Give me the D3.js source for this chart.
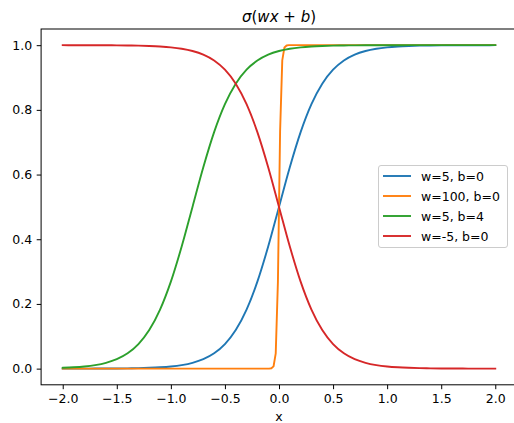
<!DOCTYPE html>
<html>
<head>
<meta charset="utf-8">
<script src="https://cdn.jsdelivr.net/npm/d3@7"></script>
<style>
  body { margin: 0; background: #fff; }
  svg { display: block; overflow: hidden; }
  text { font-family: "DejaVu Sans", sans-serif; fill: #000; }
</style>
</head>
<body>
<svg class="chart"></svg>
<script>
// sample points
var xs = [-2.0, -1.9, -1.8, -1.7, -1.6, -1.5, -1.4, -1.3, -1.2, -1.1, -1.0,
          -0.9, -0.8, -0.7, -0.6, -0.5, -0.4, -0.3, -0.2, -0.1, 0.0,
          0.1, 0.2, 0.3, 0.4, 0.5, 0.6, 0.7, 0.8, 0.9, 1.0,
          1.1, 1.2, 1.3, 1.4, 1.5, 1.6, 1.7, 1.8, 1.9, 2.0];

var blue = [0.0000, 0.0001, 0.0001, 0.0002, 0.0003, 0.0006, 0.0009, 0.0015, 0.0025, 0.0041, 0.0067,
            0.0110, 0.0180, 0.0293, 0.0474, 0.0759, 0.1192, 0.1824, 0.2689, 0.3775, 0.5000,
            0.6225, 0.7311, 0.8176, 0.8808, 0.9241, 0.9526, 0.9707, 0.9820, 0.9890, 0.9933,
            0.9959, 0.9975, 0.9985, 0.9991, 0.9994, 0.9997, 0.9998, 0.9999, 0.9999, 1.0000];

var green = [0.0025, 0.0041, 0.0067, 0.0110, 0.0180, 0.0293, 0.0474, 0.0759, 0.1192, 0.1824, 0.2689,
             0.3775, 0.5000, 0.6225, 0.7311, 0.8176, 0.8808, 0.9241, 0.9526, 0.9707, 0.9820,
             0.9890, 0.9933, 0.9959, 0.9975, 0.9985, 0.9991, 0.9994, 0.9997, 0.9998, 0.9999,
             0.9999, 1.0000, 1.0000, 1.0000, 1.0000, 1.0000, 1.0000, 1.0000, 1.0000, 1.0000];

var red = [1.0000, 0.9999, 0.9999, 0.9998, 0.9997, 0.9994, 0.9991, 0.9985, 0.9975, 0.9959, 0.9933,
           0.9890, 0.9820, 0.9707, 0.9526, 0.9241, 0.8808, 0.8176, 0.7311, 0.6225, 0.5000,
           0.3775, 0.2689, 0.1824, 0.1192, 0.0759, 0.0474, 0.0293, 0.0180, 0.0110, 0.0067,
           0.0041, 0.0025, 0.0015, 0.0009, 0.0006, 0.0003, 0.0002, 0.0001, 0.0001, 0.0000];

// the steep one only has a few samples near zero
var orangeX = [-2.0, -0.0905, -0.0704, -0.0503, -0.0302, -0.0101, 0.0101, 0.0302, 0.0503, 0.0704, 0.0905, 2.0];
var orange  = [0.000, 0.000, 0.001, 0.007, 0.047, 0.268, 0.732, 0.953, 0.993, 0.999, 1.000, 1.000];

var labels = ["w=5, b=0", "w=100, b=0", "w=5, b=4", "w=-5, b=0"];
var colors = ["#1f77b4", "#ff7f0e", "#2ca02c", "#d62728"];
var xTicks = [-2.0, -1.5, -1.0, -0.5, 0.0, 0.5, 1.0, 1.5, 2.0];
var yTicks = [0.0, 0.2, 0.4, 0.6, 0.8, 1.0];

function show() {
    'use strict';
    var W = 514, H = 423;

    var svg = d3.select(".chart")
        .attr("width", W)
        .attr("height", H);

    var x = d3.scaleLinear().domain([-2.2, 2.2]).range([41.1, 516.9]);
    var y = d3.scaleLinear().domain([-0.05, 1.05]).range([384.8, 29.0]);

    var series = [
        {xs: xs, ys: blue, curve: d3.curveMonotoneX},
        {xs: orangeX, ys: orange, curve: d3.curveLinear},
        {xs: xs, ys: green, curve: d3.curveMonotoneX},
        {xs: xs, ys: red, curve: d3.curveMonotoneX}
    ];

    var fmt = d3.format(".1f");

    // axes
    var xAxis = svg.append("g")
        .attr("transform", "translate(0," + y.range()[0] + ")")
        .call(d3.axisBottom(x).tickValues(xTicks).tickFormat(fmt).tickSizeOuter(0).tickSize(4.4).tickPadding(4.5));
    var yAxis = svg.append("g")
        .attr("transform", "translate(" + x.range()[0] + ",0)")
        .call(d3.axisLeft(y).tickValues(yTicks).tickFormat(fmt).tickSizeOuter(0).tickSize(4.4).tickPadding(4.5));

    [xAxis, yAxis].forEach(function(g) {
        g.select(".domain").remove();
        g.selectAll(".tick line").attr("stroke", "#000").attr("stroke-width", 1);
        g.selectAll(".tick text").style("font-size", "12.5px").attr("fill", "#000");
    });

    // lines
    var lines = svg.append("g");
    series.forEach(function(s, i) {
        var pts = s.xs.map(function(v, j) { return [v, s.ys[j]]; });
        lines.append("path")
            .datum(pts)
            .attr("fill", "none")
            .attr("stroke", colors[i])
            .attr("stroke-width", 1.9)
            .attr("stroke-linejoin", "round")
            .attr("stroke-linecap", "square")
            .attr("d", d3.line().curve(s.curve)
                .x(function(d) { return x(d[0]); })
                .y(function(d) { return y(d[1]); }));
    });

    // frame
    svg.append("rect")
        .attr("x", x.range()[0]).attr("y", y.range()[1])
        .attr("width", x.range()[1] - x.range()[0])
        .attr("height", y.range()[0] - y.range()[1])
        .attr("fill", "none")
        .attr("stroke", "#000")
        .attr("stroke-width", 1);

    // title
    var title = svg.append("text")
        .attr("x", (x.range()[0] + x.range()[1]) / 2)
        .attr("y", 22)
        .attr("text-anchor", "middle")
        .style("font-size", "15px");
    title.append("tspan").style("font-style", "italic").text("σ");
    title.append("tspan").text("(");
    title.append("tspan").style("font-style", "italic").text("wx");
    title.append("tspan").text(" + ");
    title.append("tspan").style("font-style", "italic").text("b");
    title.append("tspan").text(")");

    // x label
    svg.append("text")
        .attr("x", (x.range()[0] + x.range()[1]) / 2)
        .attr("y", 421)
        .attr("text-anchor", "middle")
        .style("font-size", "12.5px")
        .text("x");

    // legend
    var leg = svg.append("g");
    leg.append("rect")
        .attr("x", 378.5).attr("y", 165.5)
        .attr("width", 129).attr("height", 82)
        .attr("rx", 2.5)
        .attr("fill", "#fff").attr("fill-opacity", 0.8)
        .attr("stroke", "#ccc").attr("stroke-width", 1);
    labels.forEach(function(lab, i) {
        var cy = 176 + i * 20;
        leg.append("line")
            .attr("x1", 383).attr("x2", 411)
            .attr("y1", cy).attr("y2", cy)
            .attr("stroke", colors[i]).attr("stroke-width", 1.9);
        leg.append("text")
            .attr("x", 421).attr("y", cy + 4.5)
            .style("font-size", "12.5px")
            .text(lab);
    });
}
show();
</script>
</body>
</html>
